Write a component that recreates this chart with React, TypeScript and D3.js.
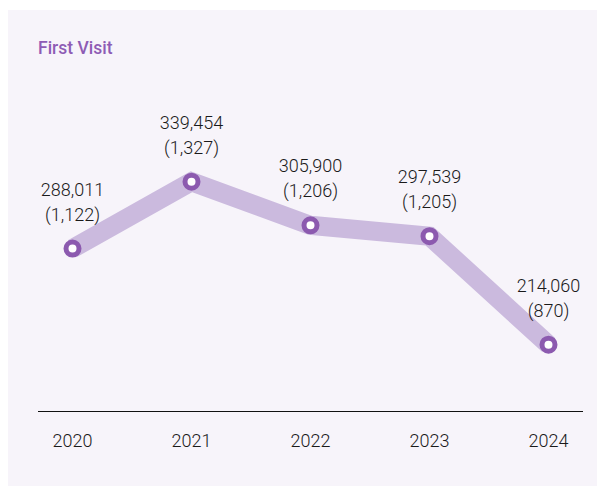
import React from "react";
import * as d3 from "d3";

const years = ["2020", "2021", "2022", "2023", "2024"];
const visits = [288011, 339454, 305900, 297539, 214060];
const counts = [1122, 1327, 1206, 1205, 870];
const title = "First Visit";

export default function App() {
  const W = 605, H = 494;
  const x = d3.scalePoint<string>().domain(years).range([38, 583]).padding(0.29);
  const y = d3.scaleLinear().domain([150000, 350000]).range([428, 168]);
  const line = d3.line<number>().x((_, i) => x(years[i])!).y((d) => y(d));
  const fmt = d3.format(",");
  const font = "Roboto, 'Noto Sans', sans-serif";
  return (
    <svg width={W} height={H} style={{ position: "absolute", left: 0, top: 0 }} fontFamily={font}>
      <rect x={0} y={0} width={W} height={H} fill="#ffffff" />
      <rect x={8} y={10} width={589} height={476} fill="#f7f4fa" />
      <text x={38} y={54} fontSize={17.5} fontWeight={500} fill="#8e5cb5">{title}</text>
      <path d={line(visits)!} fill="none" stroke="#cbbade" strokeWidth={19} strokeLinejoin="miter" />
      {visits.map((v, i) => (
        <g key={years[i]}>
          <circle cx={x(years[i])} cy={y(v)} r={6.5} fill="#ffffff" stroke="#8c5aaf" strokeWidth={5} />
          <text x={x(years[i])} y={y(v) - 53} textAnchor="middle" fontSize={18} fontWeight={300} fill="#1a1a1a">{fmt(v)}</text>
          <text x={x(years[i])} y={y(v) - 28} textAnchor="middle" fontSize={18} fontWeight={300} fill="#1a1a1a">({fmt(counts[i])})</text>
        </g>
      ))}
      <line x1={38} x2={583} y1={411.5} y2={411.5} stroke="#111" strokeWidth={1} />
      {years.map((yr) => (
        <text key={yr} x={x(yr)} y={447} textAnchor="middle" fontSize={18} fontWeight={300} fill="#1a1a1a">{yr}</text>
      ))}
    </svg>
  );
}
